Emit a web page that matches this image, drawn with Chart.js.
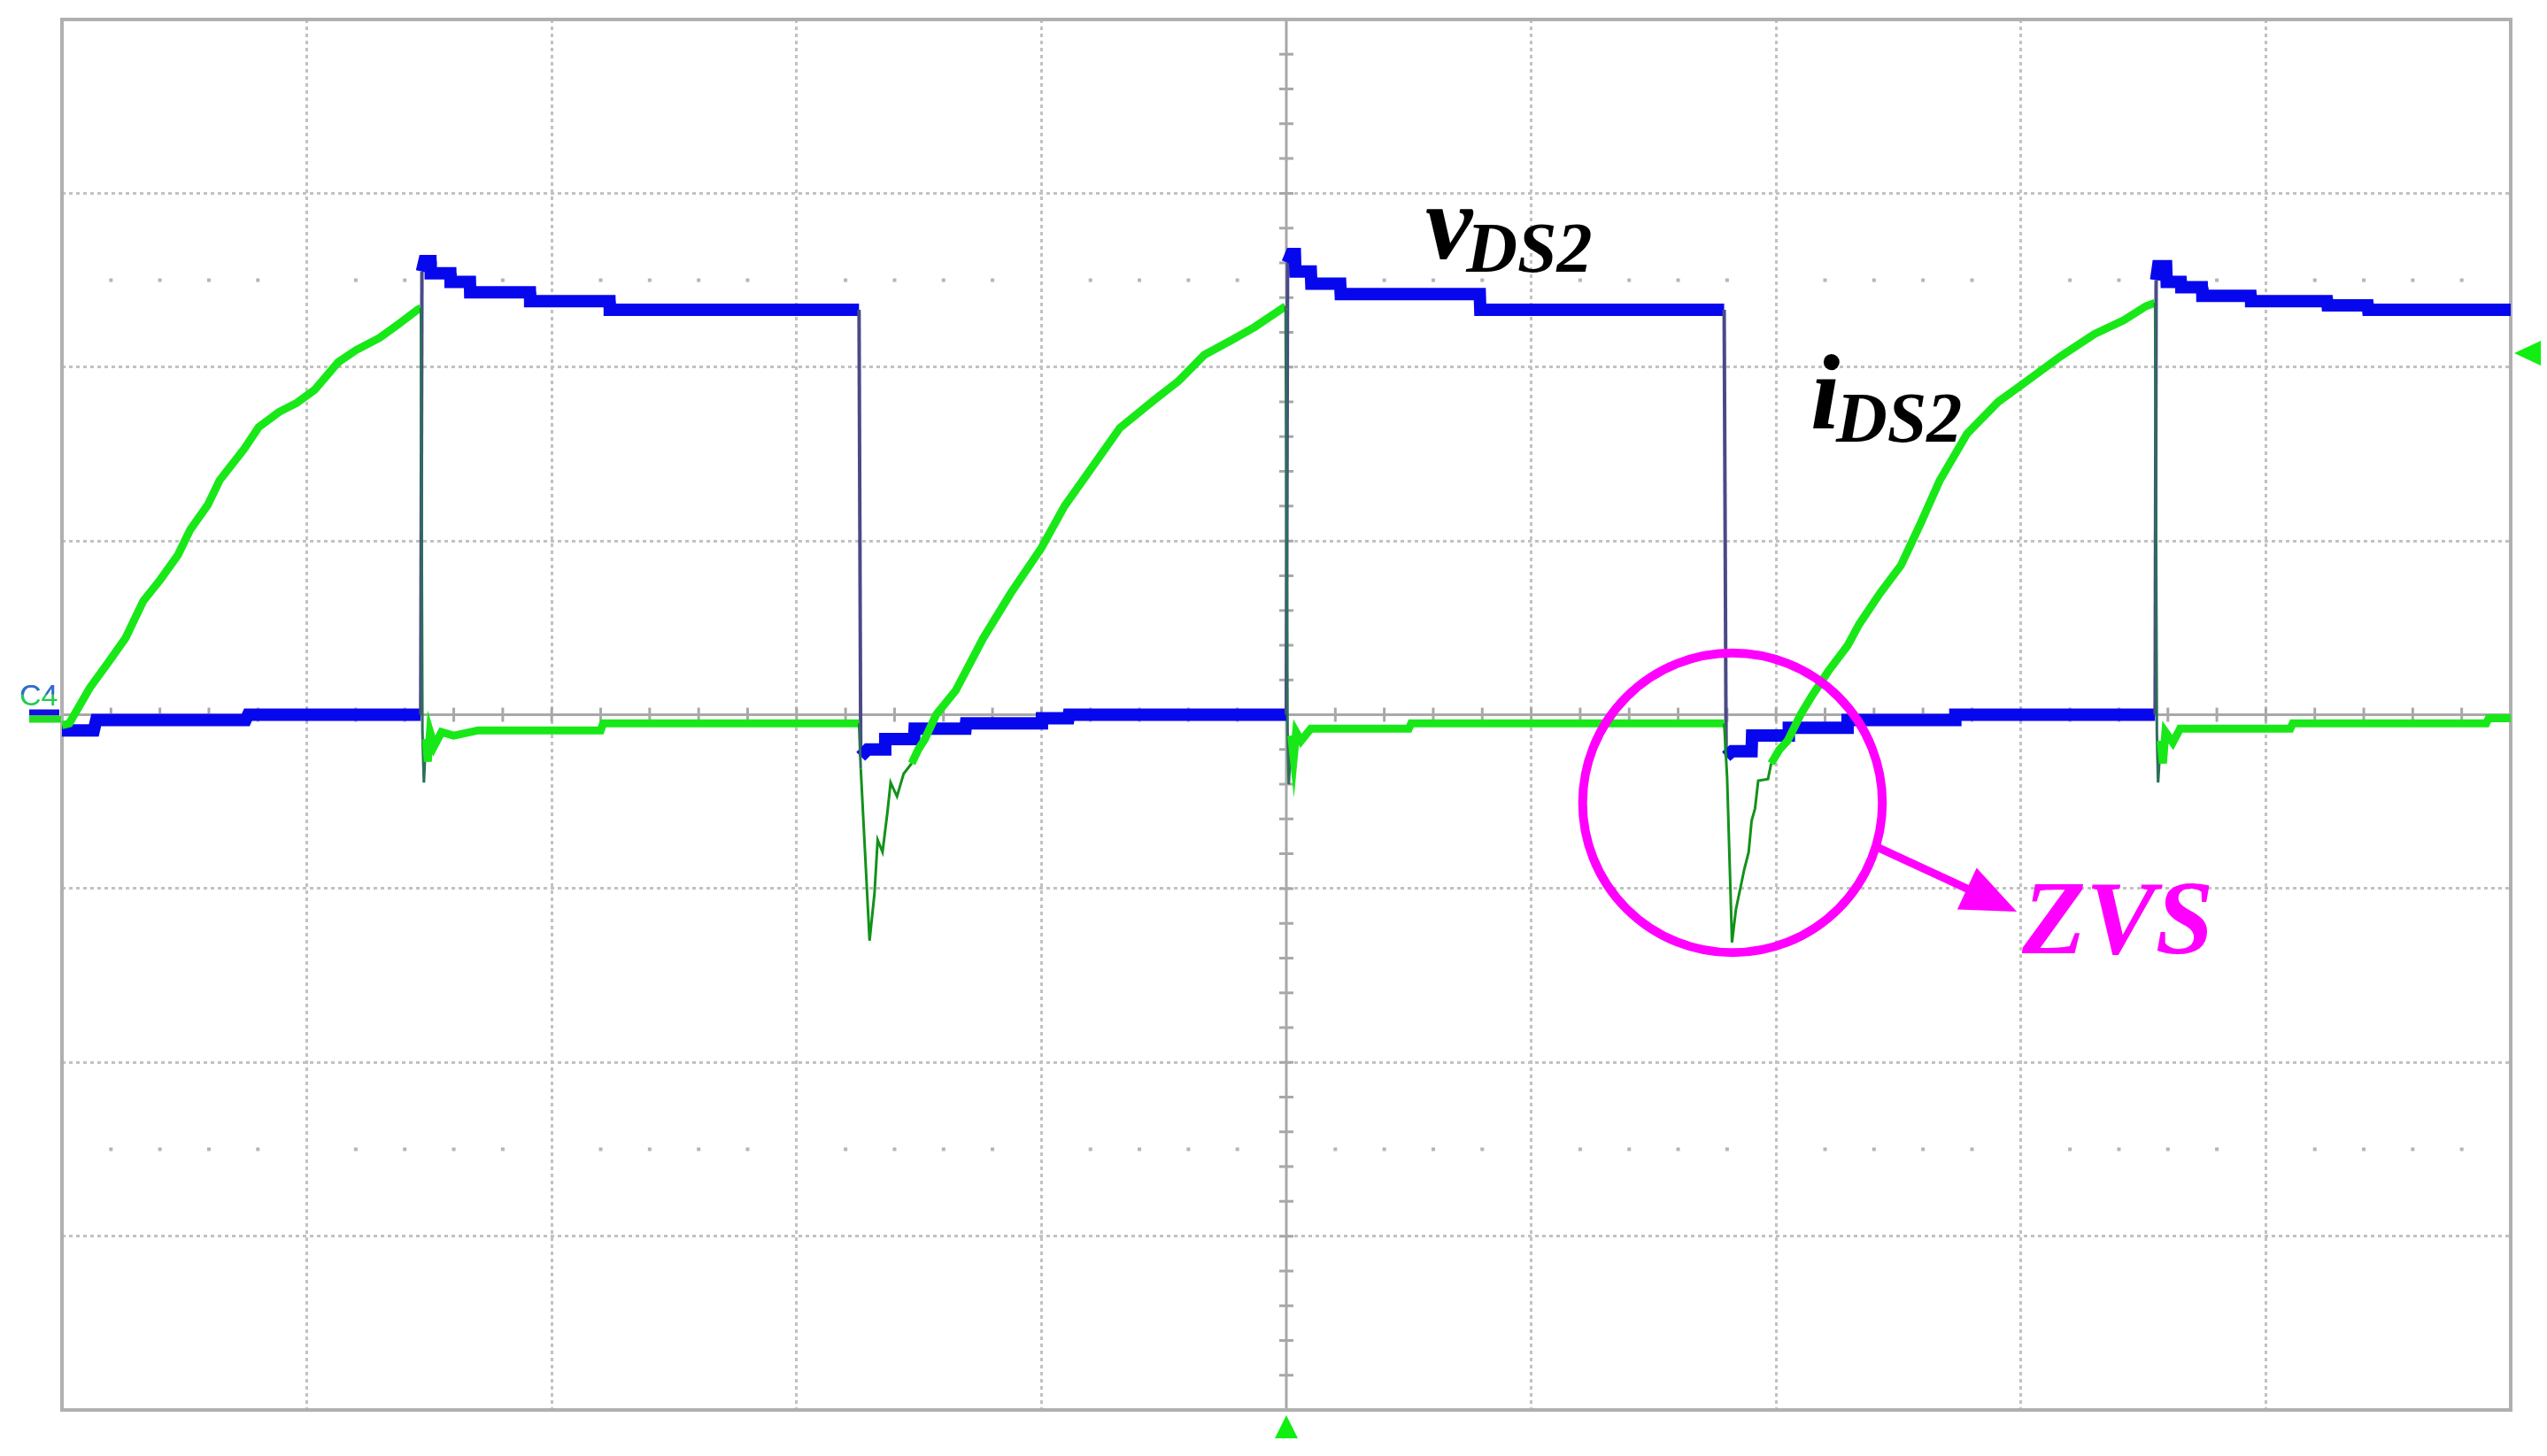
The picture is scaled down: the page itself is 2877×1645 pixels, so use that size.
<!DOCTYPE html>
<html>
<head>
<meta charset="utf-8">
<title>vDS2 / iDS2 - ZVS</title>
<script src="https://cdn.jsdelivr.net/npm/chart.js@4.4.1/dist/chart.umd.min.js"></script>
<style>
html, body { margin: 0; padding: 0; background: #fff; }
</style>
</head>
<body>
<canvas id="scope" width="2877" height="1645"></canvas>
<script>
// scope screen: 10 div across, 8 div high, values in divisions
const xTicks = [0, 1, 2, 3, 4, 5, 6, 7, 8, 9, 10];
const yTicks = [-4, -3, -2, -1, 0, 1, 2, 3, 4];
const dotRows = [-2.5, 2.5];

// vDS2 (blue)
const vdsTime = [0, 0.13, 0.14, 0.75, 0.76, 1.465, 1.47, 1.48, 1.505, 1.506, 1.586, 1.587, 1.666, 1.667, 1.911, 1.912, 2.236, 2.237, 3.255,
  3.262, 3.29, 3.36, 3.362, 3.48, 3.482, 3.69, 3.692, 4.0, 4.002, 4.11, 4.112, 5.0,
  5.005, 5.02, 5.035, 5.037, 5.1, 5.102, 5.22, 5.222, 5.79, 5.792, 6.788,
  6.796, 6.82, 6.9, 6.902, 7.05, 7.052, 7.29, 7.292, 7.73, 7.732, 8.548,
  8.552, 8.56, 8.593, 8.595, 8.653, 8.655, 8.739, 8.741, 8.938, 8.94, 9.25, 9.252, 9.416, 9.418, 10];
const vdsLevel = [-0.09, -0.09, -0.03, -0.03, 0, 0, 2.55, 2.61, 2.61, 2.54, 2.54, 2.49, 2.49, 2.43, 2.43, 2.38, 2.38, 2.33, 2.33,
  -0.24, -0.2, -0.2, -0.14, -0.14, -0.08, -0.08, -0.05, -0.05, -0.02, -0.02, 0, 0,
  2.6, 2.65, 2.65, 2.55, 2.55, 2.48, 2.48, 2.42, 2.42, 2.33, 2.33,
  -0.24, -0.21, -0.21, -0.12, -0.12, -0.075, -0.075, -0.03, -0.03, 0, 0,
  2.5, 2.58, 2.58, 2.49, 2.49, 2.46, 2.46, 2.41, 2.41, 2.38, 2.38, 2.355, 2.355, 2.33, 2.33];

// iDS2 (green)
const idsTime = [0, 0.03, 0.042, 0.113, 0.186, 0.259, 0.332, 0.402, 0.474, 0.524, 0.595, 0.644, 0.743, 0.803, 0.886, 0.959, 1.032, 1.128, 1.201, 1.297, 1.37, 1.453, 1.466,
  1.472, 1.478, 1.486, 1.494, 1.503, 1.52, 1.55, 1.6, 1.7, 2.2, 2.21, 3.255,
  3.262, 3.298, 3.318, 3.331, 3.351, 3.371, 3.384, 3.41, 3.437, 3.47, 3.497, 3.524, 3.57,
  3.65, 3.762, 3.875, 4.0, 4.094, 4.18, 4.32, 4.46, 4.56, 4.665, 4.77, 4.87, 4.997,
  5.005, 5.01, 5.02, 5.03, 5.04, 5.06, 5.1, 5.5, 5.51, 6.788,
  6.8, 6.82, 6.836, 6.87, 6.888, 6.9, 6.914, 6.927, 6.967, 6.98, 7.014, 7.047, 7.1,
  7.147, 7.213, 7.293, 7.339, 7.425, 7.51, 7.59, 7.668, 7.78, 7.907, 8.015, 8.16, 8.3, 8.42, 8.51, 8.548,
  8.555, 8.56, 8.57, 8.58, 8.59, 8.62, 8.65, 9.1, 9.11, 9.9, 9.91, 10];
const idsLevel = [-0.06, -0.05, -0.02, 0.153, 0.295, 0.44, 0.654, 0.778, 0.92, 1.065, 1.206, 1.349, 1.527, 1.654, 1.741, 1.794, 1.869, 2.028, 2.098, 2.168, 2.243, 2.331, 2.34,
  -0.1, -0.39, -0.14, -0.27, -0.1, -0.18, -0.1, -0.12, -0.09, -0.09, -0.05, -0.05,
  -0.31, -1.3, -1.03, -0.72, -0.79, -0.56, -0.39, -0.47, -0.34, -0.28, -0.2, -0.14, 0,
  0.14, 0.44, 0.7, 0.96, 1.2, 1.37, 1.65, 1.81, 1.92, 2.07, 2.15, 2.23, 2.35,
  -0.1, -0.4, -0.12, -0.25, -0.1, -0.15, -0.08, -0.08, -0.05, -0.05,
  -0.36, -1.31, -1.12, -0.89, -0.79, -0.61, -0.54, -0.38, -0.37, -0.28, -0.2, -0.15, 0,
  0.11, 0.25, 0.4, 0.52, 0.7, 0.86, 1.1, 1.347, 1.617, 1.8, 1.91, 2.06, 2.19, 2.27, 2.35, 2.37,
  -0.1, -0.39, -0.15, -0.28, -0.1, -0.16, -0.08, -0.08, -0.05, -0.05, -0.02, -0.02];

// where the annotations sit (in divisions)
const labelSpots = {
  vMain: [5.568, 2.625], vSub: [5.735, 2.55],
  iMain: [7.14, 1.647], iSub: [7.245, 1.571],
  zvs: [8.004, -1.37],
  ring: [6.822, -0.507], ringR: 0.612,
  arrowFrom: [7.411, -0.761], arrowTo: [7.983, -1.133],
  trig: 2.08
};
const serif = '"Liberation Serif", "Times New Roman", serif';

const toPts = (xs, ys) => xs.map((t, i) => ({x: t, y: ys[i]}));

function steep(c) {
  return Math.abs(c.p1.x - c.p0.x) < 3 && Math.abs(c.p1.y - c.p0.y) > 40;
}
function dip(c) {
  return Math.min(c.p0.parsed.y, c.p1.parsed.y) < -0.3;
}

const scopeDecor = {
  id: 'scopeDecor',
  beforeDatasetsDraw(chart) {
    const {ctx, chartArea: a, scales: {x, y}} = chart;
    ctx.save();
    ctx.fillStyle = '#b5b5b5';
    dotRows.forEach(r => {
      const py = y.getPixelForValue(r);
      for (let k = 1; k < 50; k++) {
        if (k % 5 === 0) continue;
        const px = x.getPixelForValue(k * 0.2);
        ctx.fillRect(px - 2, py - 2, 4, 4);
      }
    });
    const cx = x.getPixelForValue(5), cy = y.getPixelForValue(0);
    ctx.strokeStyle = '#a8a8a8';
    ctx.lineWidth = 3;
    ctx.beginPath();
    ctx.moveTo(a.left, cy); ctx.lineTo(a.right, cy);
    ctx.moveTo(cx, a.top); ctx.lineTo(cx, a.bottom);
    for (let k = 1; k < 50; k++) {
      const px = x.getPixelForValue(k * 0.2);
      ctx.moveTo(px, cy - 8); ctx.lineTo(px, cy + 8);
    }
    for (let k = 1; k < 40; k++) {
      const py = y.getPixelForValue(-4 + k * 0.2);
      ctx.moveTo(cx - 8, py); ctx.lineTo(cx + 8, py);
    }
    ctx.stroke();
    ctx.strokeStyle = '#b0b0b0';
    ctx.lineWidth = 4;
    ctx.strokeRect(a.left, a.top, a.right - a.left, a.bottom - a.top);
    ctx.restore();
  },
  afterDatasetsDraw(chart) {
    const {ctx, chartArea: a, scales: {x, y}} = chart;
    const P = s => [x.getPixelForValue(s[0]), y.getPixelForValue(s[1])];
    ctx.save();

    // channel marker on the left
    const cy = y.getPixelForValue(0);
    ctx.fillStyle = '#1010e0';
    ctx.fillRect(a.left - 37, cy - 6, 34, 7);
    ctx.fillStyle = '#22dd22';
    ctx.fillRect(a.left - 37, cy + 1, 36, 8);
    ctx.font = '34px "Liberation Sans"';
    ctx.fillStyle = '#22cc55';
    ctx.fillText('C4', a.left - 48, cy - 11);
    ctx.save();
    ctx.beginPath();
    ctx.rect(a.left - 50, cy - 50, 50, 27);
    ctx.clip();
    ctx.fillStyle = '#3a66d6';
    ctx.fillText('C4', a.left - 48, cy - 11);
    ctx.restore();

    // trigger level marker (right) and trigger position (bottom)
    ctx.fillStyle = '#11ee11';
    const ty = y.getPixelForValue(labelSpots.trig);
    ctx.beginPath();
    ctx.moveTo(a.right + 4, ty); ctx.lineTo(a.right + 34, ty - 14); ctx.lineTo(a.right + 34, ty + 14);
    ctx.closePath(); ctx.fill();
    const tx = x.getPixelForValue(5);
    ctx.beginPath();
    ctx.moveTo(tx, a.bottom + 6); ctx.lineTo(tx - 13, a.bottom + 32); ctx.lineTo(tx + 13, a.bottom + 32);
    ctx.closePath(); ctx.fill();

    // trace names
    ctx.fillStyle = '#000';
    ctx.font = 'italic bold 120px ' + serif;
    ctx.fillText('v', ...P(labelSpots.vMain));
    ctx.fillText('i', ...P(labelSpots.iMain));
    ctx.font = 'italic bold 80px ' + serif;
    ctx.fillText('DS2', ...P(labelSpots.vSub));
    ctx.fillText('DS2', ...P(labelSpots.iSub));

    // ZVS ring, arrow and text
    ctx.strokeStyle = '#ff00ff';
    ctx.fillStyle = '#ff00ff';
    ctx.lineWidth = 10;
    const [rx, ry] = P(labelSpots.ring);
    const rr = x.getPixelForValue(labelSpots.ringR) - x.getPixelForValue(0);
    ctx.beginPath();
    ctx.arc(rx, ry, rr, 0, Math.PI * 2);
    ctx.stroke();
    const [ax, ay] = P(labelSpots.arrowFrom);
    const [bx, by] = P(labelSpots.arrowTo);
    const ang = Math.atan2(by - ay, bx - ax);
    const hl = 62, hw = 26;
    const baseX = bx - hl * Math.cos(ang), baseY = by - hl * Math.sin(ang);
    ctx.lineWidth = 9;
    ctx.beginPath();
    ctx.moveTo(ax, ay); ctx.lineTo(baseX + 4 * Math.cos(ang), baseY + 4 * Math.sin(ang));
    ctx.stroke();
    ctx.beginPath();
    ctx.moveTo(bx, by);
    ctx.lineTo(baseX + hw * Math.sin(ang), baseY - hw * Math.cos(ang));
    ctx.lineTo(baseX - hw * Math.sin(ang), baseY + hw * Math.cos(ang));
    ctx.closePath(); ctx.fill();
    ctx.font = 'italic bold 118px ' + serif;
    ctx.fillText('ZVS', ...P(labelSpots.zvs));
    ctx.restore();
  }
};

const gridColor = (c, edges) => (c.tick && edges.includes(c.tick.value)) ? 'rgba(0,0,0,0)' : '#c2c2c2';

new Chart(document.getElementById('scope'), {
  type: 'line',
  data: {
    datasets: [
      {
        label: 'iDS2',
        data: toPts(idsTime, idsLevel),
        order: 0,
        borderColor: '#18e818',
        borderWidth: 9,
        pointRadius: 0,
        tension: 0,
        segment: {
          borderWidth: c => (steep(c) || dip(c)) ? 3 : 9,
          borderColor: c => steep(c) ? '#2c6f5a' : (dip(c) ? '#12921a' : '#18e818')
        }
      },
      {
        label: 'vDS2',
        data: toPts(vdsTime, vdsLevel),
        order: 1,
        borderColor: '#0707ee',
        borderWidth: 14,
        pointRadius: 0,
        tension: 0,
        segment: {
          borderWidth: c => steep(c) ? 4 : 14,
          borderColor: c => steep(c) ? '#4a4a86' : '#0707ee'
        }
      }
    ]
  },
  options: {
    responsive: false,
    animation: false,
    devicePixelRatio: 1,
    layout: {padding: {left: 70, top: 22, right: 41, bottom: 52}},
    plugins: {legend: {display: false}, tooltip: {enabled: false}},
    scales: {
      x: {
        type: 'linear', min: 0, max: 10,
        afterBuildTicks: s => { s.ticks = xTicks.map(v => ({value: v})); },
        afterFit: s => { s.height = 0; },
        ticks: {display: false},
        grid: {color: c => gridColor(c, [0, 5, 10]), lineWidth: 3, drawTicks: false},
        border: {display: false, dash: [4, 4]}
      },
      y: {
        type: 'linear', min: -4, max: 4,
        afterBuildTicks: s => { s.ticks = yTicks.map(v => ({value: v})); },
        afterFit: s => { s.width = 0; },
        ticks: {display: false},
        grid: {color: c => gridColor(c, [-4, 0, 4]), lineWidth: 3, drawTicks: false},
        border: {display: false, dash: [4, 4]}
      }
    }
  },
  plugins: [scopeDecor]
});
</script>
</body>
</html>
